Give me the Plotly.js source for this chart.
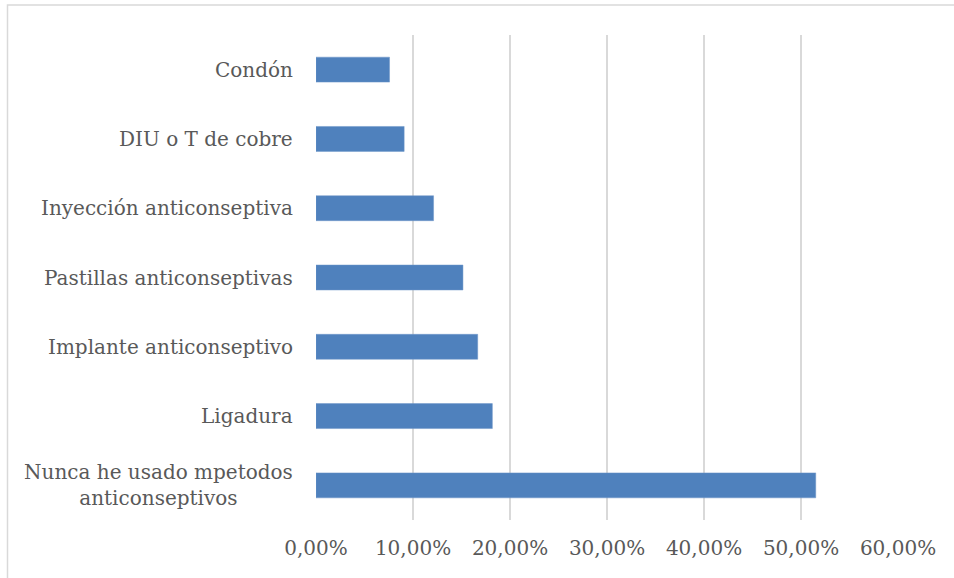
<!DOCTYPE html>
<html>
<head>
<meta charset="utf-8">
<script src="https://cdn.plot.ly/plotly-3.0.1.min.js"></script>
<style>html,body{margin:0;padding:0;background:#fff;}#chart{width:954px;height:578px;}</style>
</head>
<body>
<div id="chart"></div>
<script>
var categories = [
  "Nunca he usado mpetodos<br>anticonseptivos",
  "Ligadura",
  "Implante anticonseptivo",
  "Pastillas anticonseptivas",
  "Inyección anticonseptiva",
  "DIU o T de cobre",
  "Condón"
];
var values = [0.5152, 0.1818, 0.1667, 0.1515, 0.1212, 0.0909, 0.0758];
var tickVals = [0, 0.1, 0.2, 0.3, 0.4, 0.5, 0.6];
var tickText = ["0,00%", "10,00%", "20,00%", "30,00%", "40,00%", "50,00%", "60,00%"];

var font = {family: "DejaVu Serif", size: 20, color: "#595959"};

var trace = {
  type: "bar",
  orientation: "h",
  x: values,
  y: categories,
  marker: {color: "#4f81bd", line: {color: "#6e97c9", width: 0.5}},
  hoverinfo: "none"
};

var annotations = categories.map(function (c) {
  return {
    xref: "paper", yref: "y", x: 0, y: c,
    xanchor: "right", yanchor: "middle", xshift: -21,
    text: c, showarrow: false, align: "center", font: font
  };
});

var layout = {
  width: 954, height: 578,
  margin: {l: 316, r: 56, t: 35, b: 58},
  paper_bgcolor: "#ffffff", plot_bgcolor: "#ffffff",
  showlegend: false,
  bargap: 0.64,
  font: font,
  xaxis: {
    range: [0, 0.6], tickvals: tickVals, ticktext: tickText,
    showgrid: true, gridcolor: "#d9d9d9", gridwidth: 1.3,
    zeroline: false, showline: false, ticks: "",
    ticklabelstandoff: 14, tickfont: font, fixedrange: true
  },
  yaxis: {
    type: "category", categoryorder: "array", categoryarray: categories,
    showticklabels: false, showgrid: false, zeroline: false, showline: false,
    ticks: "", range: [-0.5, 6.5], fixedrange: true
  },
  annotations: annotations,
  shapes: [{
    type: "rect", xref: "paper", yref: "paper",
    x0: -316/582 + 7.5/582, x1: 1 + 60/582, y0: -80/485, y1: 1 + 30/485,
    line: {color: "#d9d9d9", width: 1.5}, fillcolor: "rgba(0,0,0,0)", layer: "below"
  }]
};

Plotly.newPlot("chart", [trace], layout, {displayModeBar: false, staticPlot: true});
</script>
</body>
</html>
